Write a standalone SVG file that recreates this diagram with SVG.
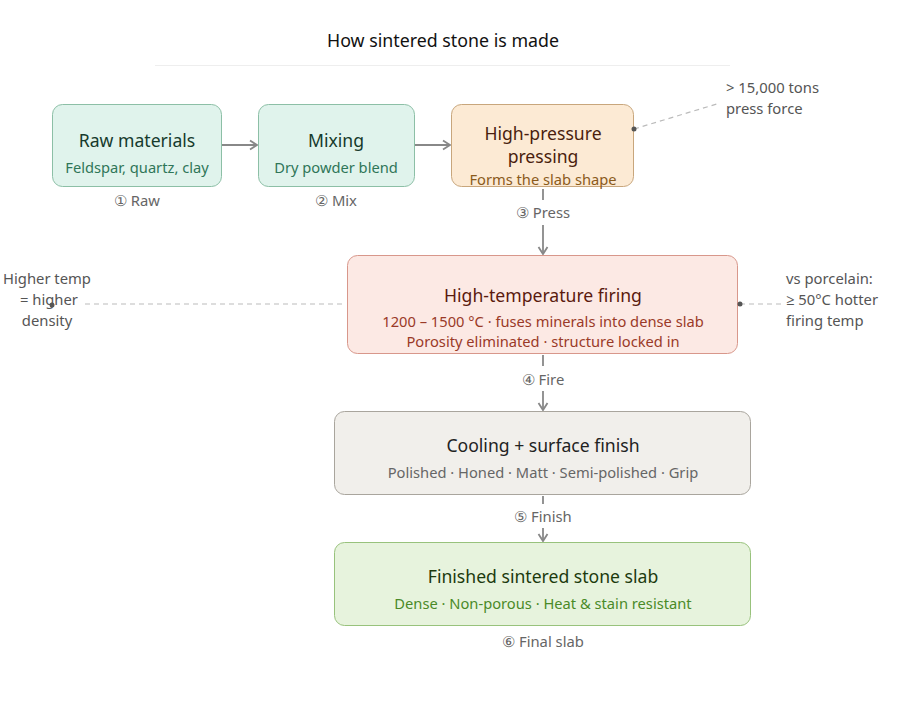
<svg xmlns="http://www.w3.org/2000/svg" width="900" height="704" viewBox="0 0 900 704">
<style>
text{font-family:"Noto Sans","Open Sans","Liberation Sans",sans-serif;}
.t{font-size:17.6px;text-anchor:middle;}
.s{font-size:14.7px;text-anchor:middle;}
.lbl{font-size:14.8px;fill:#666;text-anchor:middle;}
.ann{font-size:14.8px;fill:#555;}
.box{stroke-width:1;}
.conn{stroke:#888;stroke-width:1.8;fill:none;}
.dash{stroke:#bbb;stroke-width:1.2;stroke-dasharray:5 4;fill:none;}
</style>
<defs>
<marker id="arr" markerWidth="12" markerHeight="12" refX="9" refY="6" orient="auto" markerUnits="userSpaceOnUse">
<path d="M2,1.5 L9,6 L2,10.5" fill="none" stroke="#888" stroke-width="1.8"/>
</marker>
</defs>
<rect width="900" height="704" fill="#fff"/>
<text x="443" y="47" style="font-size:17.8px;text-anchor:middle;fill:#111">How sintered stone is made</text>
<line x1="155" y1="65.5" x2="730" y2="65.5" stroke="#eee" stroke-width="1"/>

<g id="connectors">
<line class="conn" x1="222" y1="145" x2="257" y2="145" marker-end="url(#arr)"/>
<line class="conn" x1="415" y1="145" x2="450" y2="145" marker-end="url(#arr)"/>
<line class="conn" x1="543" y1="189" x2="543" y2="200"/>
<line class="conn" x1="543" y1="225" x2="543" y2="254" marker-end="url(#arr)"/>
<text class="lbl" x="543" y="218">③ Press</text>
<line class="conn" x1="543" y1="355" x2="543" y2="366"/>
<line class="conn" x1="543" y1="391" x2="543" y2="410" marker-end="url(#arr)"/>
<text class="lbl" x="543" y="385">④ Fire</text>
<line class="conn" x1="543" y1="496" x2="543" y2="504"/>
<line class="conn" x1="543" y1="528" x2="543" y2="541" marker-end="url(#arr)"/>
<text class="lbl" x="543" y="522">⑤ Finish</text>
</g>

<g id="raw">
<rect class="box" x="52.5" y="104.5" width="169" height="82" rx="10" fill="#e0f3ec" stroke="#8cbfa6"/>
<text class="t" x="137" y="147" fill="#163a2c">Raw materials</text>
<text class="s" x="137" y="173" fill="#2f7658">Feldspar, quartz, clay</text>
<text class="lbl" x="137" y="206">① Raw</text>
</g>

<g id="mix">
<rect class="box" x="258.5" y="104.5" width="156" height="82" rx="10" fill="#e0f3ec" stroke="#8cbfa6"/>
<text class="t" x="336" y="147" fill="#163a2c">Mixing</text>
<text class="s" x="336" y="173" fill="#2f7658">Dry powder blend</text>
<text class="lbl" x="336" y="206">② Mix</text>
</g>

<g id="press">
<rect class="box" x="451.5" y="104.5" width="182" height="82" rx="10" fill="#fcead4" stroke="#c8a67c"/>
<text class="t" x="543" y="140" fill="#4a1e0e">High-pressure</text>
<text class="t" x="543" y="163" fill="#4a1e0e">pressing</text>
<text class="s" x="543" y="185" fill="#8a5a1c">Forms the slab shape</text>
</g>

<g id="press-note">
<line class="dash" x1="634" y1="129" x2="720" y2="103"/>
<circle cx="634" cy="129" r="2.5" fill="#555"/>
<text class="ann" x="726" y="93">&gt; 15,000 tons</text>
<text class="ann" x="726" y="114">press force</text>
</g>

<g id="fire">
<rect class="box" x="347.5" y="255.5" width="390" height="98" rx="10" fill="#fce9e4" stroke="#d8978b"/>
<text class="t" x="543" y="302" fill="#5a1a0e">High-temperature firing</text>
<text class="s" x="543" y="327" fill="#9a3a28">1200 – 1500 °C · fuses minerals into dense slab</text>
<text class="s" x="543" y="347" fill="#9a3a28">Porosity eliminated · structure locked in</text>
</g>

<g id="fire-note-left">
<line class="dash" x1="342" y1="304" x2="84" y2="304"/>
<circle cx="52" cy="305" r="2.5" fill="#555"/>
<text class="ann" x="47" y="284" text-anchor="middle">Higher temp</text>
<text class="ann" x="49" y="305" text-anchor="middle">= higher</text>
<text class="ann" x="47" y="326" text-anchor="middle">density</text>
</g>

<g id="fire-note-right">
<line class="dash" x1="740" y1="304" x2="782" y2="304"/>
<circle cx="740" cy="304" r="2.5" fill="#555"/>
<text class="ann" x="786" y="284">vs porcelain:</text>
<text class="ann" x="786" y="305">≥ 50°C hotter</text>
<text class="ann" x="786" y="326">firing temp</text>
</g>

<g id="cool">
<rect class="box" x="334.5" y="411.5" width="416" height="83" rx="10" fill="#f1efeb" stroke="#a9a59d"/>
<text class="t" x="543" y="452" fill="#222">Cooling + surface finish</text>
<text class="s" x="543" y="478" fill="#666">Polished · Honed · Matt · Semi-polished · Grip</text>
</g>

<g id="final">
<rect class="box" x="334.5" y="542.5" width="416" height="83" rx="10" fill="#e7f3dd" stroke="#98c27c"/>
<text class="t" x="543" y="583" fill="#1c3a0e">Finished sintered stone slab</text>
<text class="s" x="543" y="609" fill="#4a8a28">Dense · Non-porous · Heat &amp; stain resistant</text>
<text class="lbl" x="543" y="647">⑥ Final slab</text>
</g>
</svg>
